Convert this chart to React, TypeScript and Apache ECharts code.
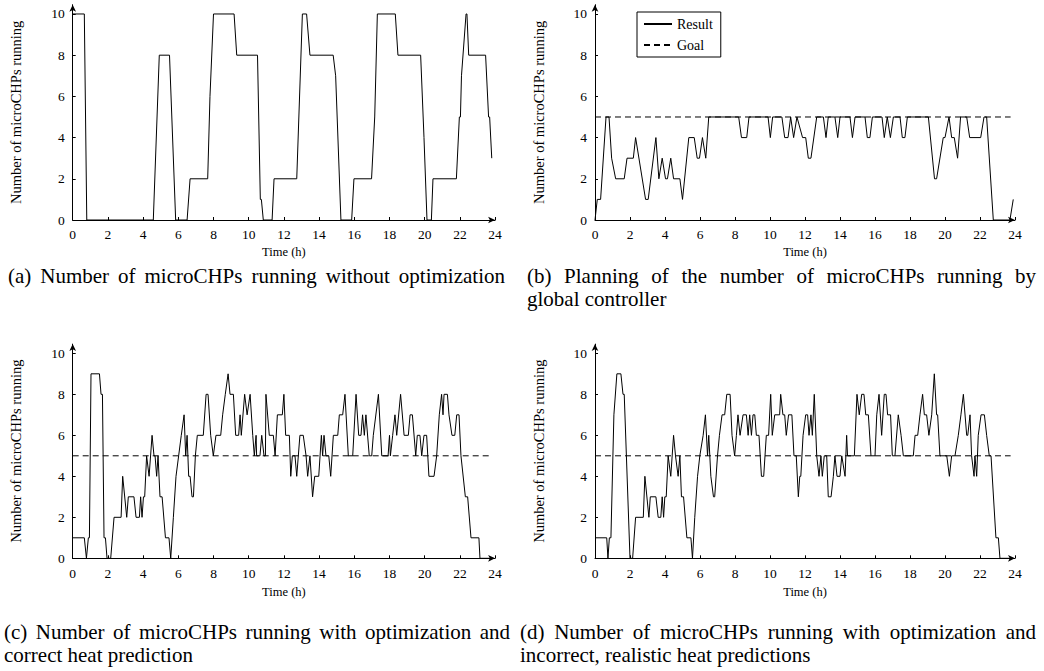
import React, { useEffect, useRef } from 'react';
import * as echarts from 'echarts';

const FONT = '"Liberation Serif", "Times New Roman", serif';

// ---- (a) without optimization ----
const hoursA = [
  0, 0.66, 0.8, 4.58, 4.92, 5.5, 5.85, 6.5, 6.67, 7.67,
  7.8, 8.0, 9.17, 9.32, 10.5, 10.66, 10.72, 10.83, 11.33, 11.44,
  12.73, 13.05, 13.29, 13.48, 14.8, 14.94, 15.24, 15.85, 15.98, 16.98,
  17.16, 17.31, 18.33, 18.48, 19.77, 19.96, 20.13, 20.38, 20.47, 21.8,
  21.97, 22.03, 22.09, 22.35, 22.4, 22.5, 23.46, 23.63, 23.69, 23.81,
];
const valuesA = [
  10, 10, 0, 0, 8, 8, 0, 0, 2, 2,
  6, 10, 10, 8, 8, 1, 1, 0, 0, 2,
  2, 10, 10, 8, 8, 7, 0, 0, 2, 2,
  5, 10, 10, 8, 8, 4, 0, 0, 2, 2,
  5, 5, 7, 10, 10, 8, 8, 5, 5, 3,
];

// ---- (b) planning by global controller ----
const hoursB = [
  0, 0.13, 0.32, 0.63, 0.8, 0.95, 1.18, 1.67, 1.83, 2.19,
  2.32, 2.89, 3.04, 3.48, 3.65, 3.84, 4.03, 4.14, 4.33, 4.49,
  4.85, 5.0, 5.36, 5.67, 5.84, 5.97, 6.14, 6.33, 6.5, 8.21,
  8.37, 8.67, 8.8, 9.89, 10.02, 10.15, 10.68, 10.84, 11.03, 11.18,
  11.35, 11.54, 11.86, 12.04, 12.19, 12.34, 12.67, 13.05, 13.2, 13.33,
  13.71, 13.87, 14.0, 14.57, 14.71, 14.86, 15.43, 15.56, 15.71, 15.85,
  16.4, 16.53, 16.7, 16.88, 17.05, 17.43, 17.56, 17.71, 17.85, 19.05,
  19.4, 19.52, 19.9, 20.0, 20.23, 20.38, 20.53, 20.72, 20.89, 21.24,
  21.41, 22.04, 22.23, 22.38, 22.76, 23.71, 23.9,
];
const valuesB = [
  0, 1, 1, 5, 5, 3, 2, 2, 3, 3,
  4, 1, 1, 4, 2, 3, 2, 2, 3, 2,
  2, 1, 4, 4, 3, 3, 4, 3, 5, 5,
  4, 4, 5, 5, 4, 5, 5, 4, 4, 5,
  4, 5, 4, 4, 3, 3, 5, 5, 4, 5,
  5, 4, 5, 5, 4, 5, 5, 4, 4, 5,
  5, 4, 5, 4, 5, 5, 4, 4, 5, 5,
  2, 2, 4, 4, 5, 4, 4, 3, 5, 5,
  4, 4, 5, 5, 0, 0, 1,
];

// ---- (c) optimization, correct heat prediction ----
const hoursC = [
  0, 0.66, 0.78, 0.89, 0.95, 1.04, 1.52, 1.61, 1.69, 1.78,
  1.86, 1.95, 2.16, 2.35, 2.75, 2.84, 3.07, 3.16, 3.48, 3.6,
  3.79, 3.86, 3.94, 4.02, 4.09, 4.2, 4.34, 4.51, 4.62, 4.68,
  4.77, 4.85, 4.96, 5.08, 5.27, 5.47, 5.57, 5.72, 5.87, 6.02,
  6.17, 6.33, 6.42, 6.5, 6.59, 6.67, 6.78, 6.86, 6.97, 7.08,
  7.42, 7.58, 7.69, 7.84, 7.99, 8.14, 8.41, 8.52, 8.67, 8.83,
  8.94, 9.13, 9.26, 9.43, 9.51, 9.58, 9.77, 9.91, 10.08, 10.23,
  10.32, 10.42, 10.45, 10.64, 10.74, 10.87, 10.95, 10.98, 11.17, 11.4,
  11.5, 11.63, 11.91, 12.0, 12.1, 12.31, 12.39, 12.48, 12.63, 12.73,
  12.91, 13.1, 13.26, 13.35, 13.48, 13.63, 13.75, 13.98, 14.13, 14.2,
  14.28, 14.39, 14.55, 14.66, 14.81, 15.06, 15.15, 15.34, 15.47, 15.66,
  15.91, 16.1, 16.25, 16.38, 16.47, 16.57, 16.66, 16.85, 16.99, 17.08,
  17.37, 17.56, 17.92, 18.0, 18.05, 18.18, 18.31, 18.41, 18.63, 18.83,
  19.07, 19.17, 19.3, 19.49, 19.58, 19.73, 19.83, 19.96, 20.11, 20.24,
  20.53, 20.68, 20.83, 20.96, 21.04, 21.1, 21.29, 21.38, 21.55, 21.71,
  21.82, 21.95, 22.06, 22.31, 22.44, 22.63, 23.08, 23.14, 23.9,
];
const valuesC = [
  1, 1, 0, 1, 1, 9, 9, 8, 8, 1,
  1, 0, 0, 2, 2, 4, 2, 3, 3, 2,
  2, 3, 2, 3, 3, 5, 4, 6, 5, 5,
  4, 5, 3, 3, 1, 1, 0, 2, 4, 5,
  6, 7, 5, 6, 4, 4, 3, 3, 5, 6,
  6, 8, 8, 6, 5, 6, 6, 7, 8, 9,
  8, 8, 6, 6, 7, 6, 8, 7, 8, 6,
  5, 6, 5, 5, 6, 5, 5, 8, 6, 6,
  5, 7, 7, 8, 6, 6, 4, 5, 5, 4,
  6, 6, 5, 4, 5, 3, 4, 4, 6, 5,
  6, 5, 5, 4, 6, 6, 7, 7, 8, 5,
  5, 8, 6, 6, 7, 6, 7, 5, 5, 6,
  8, 5, 5, 6, 5, 6, 7, 6, 8, 6,
  6, 7, 7, 5, 6, 6, 5, 6, 6, 4,
  4, 5, 7, 8, 7, 8, 8, 7, 6, 6,
  7, 7, 5, 3, 3, 1, 1, 0, 0,
];

// ---- (d) optimization, incorrect realistic heat predictions ----
const hoursD = [
  0, 0.67, 0.74, 0.82, 0.91, 1.08, 1.25, 1.48, 1.6, 1.67,
  2.0, 2.15, 2.32, 2.76, 2.85, 3.08, 3.16, 3.48, 3.61, 3.76,
  3.84, 3.92, 3.99, 4.07, 4.18, 4.33, 4.49, 4.6, 4.75, 4.85,
  4.94, 5.06, 5.25, 5.48, 5.57, 5.7, 5.86, 5.99, 6.18, 6.31,
  6.43, 6.5, 6.62, 6.77, 6.84, 7.0, 7.11, 7.26, 7.41, 7.53,
  7.72, 7.83, 7.98, 8.08, 8.17, 8.29, 8.46, 8.65, 8.75, 8.84,
  8.94, 9.03, 9.13, 9.22, 9.37, 9.51, 9.64, 9.79, 9.92, 10.04,
  10.13, 10.27, 10.55, 10.61, 10.74, 10.84, 10.93, 11.06, 11.25, 11.37,
  11.5, 11.62, 11.7, 11.76, 11.89, 12.04, 12.15, 12.23, 12.34, 12.42,
  12.53, 12.67, 12.8, 12.91, 12.99, 13.1, 13.24, 13.33, 13.49, 13.62,
  13.71, 13.83, 14.0, 14.1, 14.29, 14.38, 14.43, 14.82, 14.97, 15.1,
  15.24, 15.37, 15.47, 15.62, 15.77, 16.0, 16.1, 16.23, 16.38, 16.53,
  16.63, 16.72, 16.89, 16.99, 17.14, 17.33, 17.49, 17.62, 18.19, 18.29,
  18.44, 18.57, 18.72, 18.82, 18.95, 19.08, 19.24, 19.39, 19.52, 19.58,
  19.71, 20.1, 20.25, 20.38, 20.57, 20.76, 20.91, 21.05, 21.24, 21.3,
  21.43, 21.52, 21.66, 21.71, 21.81, 21.9, 22.06, 22.25, 22.38, 22.53,
  22.63, 22.91, 23.05, 23.14, 23.9,
];
const valuesD = [
  1, 1, 0, 1, 1, 7, 9, 9, 8, 8,
  0, 0, 2, 2, 4, 2, 3, 3, 2, 2,
  3, 2, 3, 3, 5, 4, 6, 5, 4, 5,
  3, 3, 1, 1, 0, 2, 4, 5, 6, 7,
  5, 6, 4, 3, 3, 5, 6, 7, 7, 8,
  8, 6, 5, 6, 7, 6, 7, 7, 6, 7,
  6, 7, 7, 6, 6, 4, 4, 6, 6, 8,
  6, 7, 7, 8, 7, 7, 6, 7, 7, 5,
  5, 3, 4, 4, 6, 7, 7, 6, 7, 6,
  8, 5, 4, 5, 4, 5, 5, 3, 3, 4,
  5, 4, 4, 5, 4, 6, 5, 5, 8, 7,
  8, 8, 7, 7, 5, 5, 7, 8, 6, 8,
  8, 7, 7, 5, 5, 7, 6, 5, 5, 6,
  6, 7, 8, 7, 7, 6, 7, 9, 7, 7,
  5, 5, 4, 5, 5, 6, 7, 8, 6, 6,
  7, 5, 4, 5, 4, 6, 7, 7, 6, 5,
  5, 1, 1, 0, 0,
];

// Goal level (dashed)
const goalHours = [0, 23.75];
const goalValues = [5, 5];

const xTicks = [0, 24, 2];
const yTicks = [0, 10, 2];

const captionA = '(a) Number of microCHPs running without optimization';
const captionB1 = '(b) Planning of the number of microCHPs running by';
const captionB2 = 'global controller';
const captionC1 = '(c) Number of microCHPs running with optimization and';
const captionC2 = 'correct heat prediction';
const captionD1 = '(d) Number of microCHPs running with optimization and';
const captionD2 = 'incorrect, realistic heat predictions';

const zip = (xs: number[], ys: number[]) => xs.map((x, i) => [x, ys[i]]);

const CAP_SIZE = 21;
const CAP_FONT = `${CAP_SIZE}px "Liberation Serif"`;

function measure(text: string): number {
  const c = document.createElement('canvas');
  const ctx = c.getContext('2d')!;
  ctx.font = CAP_FONT;
  return ctx.measureText(text).width;
}

// Caption as a single text element: first line justified between x0 and x1
function caption(line1: string, line2: string | null, x0: number, x1: number, yCenter: number, lh: number) {
  const words = line1.split(' ');
  const total = words.reduce((a, w) => a + measure(w), 0);
  const gap = Math.max(2, (x1 - x0 - total) / (words.length - 1));
  const rich: any = { g: { width: gap, lineHeight: lh, font: CAP_FONT } };
  let text = words.join('{g| }');
  if (line2) text += '\n' + line2;
  return {
    type: 'text',
    x: x0,
    y: yCenter - lh / 2,
    silent: true,
    style: {
      text,
      fill: '#000',
      font: CAP_FONT,
      lineHeight: lh,
      align: 'left',
      verticalAlign: 'top',
      rich,
    },
  };
}

function buildOption() {
  const grids = [
    { left: 72.7, top: 4.7, width: 422.4, height: 215.3 },
    { left: 595, top: 4.7, width: 420, height: 215.3 },
    { left: 72.7, top: 344.1, width: 422.4, height: 214.2 },
    { left: 595, top: 344.1, width: 420, height: 214.2 },
  ];
  const xAxis = grids.map((_, i) => ({
    type: 'value',
    gridIndex: i,
    min: xTicks[0],
    max: xTicks[1],
    interval: xTicks[2],
    axisLine: {
      show: true,
      lineStyle: { color: '#000', width: 1 },
      symbol: ['none', 'arrow'],
      symbolSize: [5, 7],
    },
    axisTick: { show: true, inside: true, length: 3, lineStyle: { color: '#000' } },
    axisLabel: { color: '#000', fontFamily: FONT, fontSize: 13.5, margin: i < 2 ? 7 : 8 },
    splitLine: { show: false },
    name: 'Time (h)',
    nameLocation: 'middle',
    nameGap: i < 2 ? 25 : 27,
    nameTextStyle: { fontFamily: FONT, fontSize: 12.5, color: '#000' },
  }));
  const yAxis = grids.map((_, i) => ({
    type: 'value',
    gridIndex: i,
    min: yTicks[0],
    max: 10.45,
    interval: yTicks[2],
    axisLine: {
      show: true,
      lineStyle: { color: '#000', width: 1 },
      symbol: ['none', 'arrow'],
      symbolSize: [5, 7],
    },
    axisTick: { show: true, inside: true, length: 3, lineStyle: { color: '#000' } },
    axisLabel: {
      color: '#000',
      fontFamily: FONT,
      fontSize: 13.5,
      margin: 8,
      showMaxLabel: false,
      formatter: (v: number) => (v % 2 === 0 ? String(v) : ''),
    },
    splitLine: { show: false },
    name: 'Number of microCHPs running',
    nameLocation: 'middle',
    nameGap: 49,
    nameTextStyle: { fontFamily: FONT, fontSize: 14.5, color: '#000' },
  }));

  const solid = (name: string, data: number[][], idx: number) => ({
    type: 'line',
    name,
    data,
    xAxisIndex: idx,
    yAxisIndex: idx,
    symbol: 'none',
    showSymbol: false,
    lineStyle: { color: '#000', width: 1 },
    itemStyle: { color: '#000' },
    silent: true,
  });
  const dashed = (idx: number) => ({
    type: 'line',
    name: 'Goal',
    data: zip(goalHours, goalValues),
    xAxisIndex: idx,
    yAxisIndex: idx,
    symbol: 'none',
    showSymbol: false,
    lineStyle: { color: '#000', width: 1, type: [6, 4] },
    itemStyle: { color: '#000' },
    silent: true,
  });

  const graphics: any[] = [
    caption(captionA, null, 8, 505, 276, 22.5),
    caption(captionB1, captionB2, 527, 1036, 276, 22.5),
    caption(captionC1, captionC2, 4, 510, 632, 22.5),
    caption(captionD1, captionD2, 520, 1036, 632, 22.5),
  ];

  return {
    animation: false,
    backgroundColor: '#fff',
    grid: grids,
    xAxis,
    yAxis,
    legend: {
      orient: 'vertical',
      left: 637,
      top: 12,
      data: ['Result', 'Goal'],
      borderColor: '#000',
      borderWidth: 1,
      borderRadius: 0,
      padding: [5, 8, 5, 6],
      itemGap: 7,
      itemWidth: 28,
      itemHeight: 12,
      selectedMode: false,
      itemStyle: { opacity: 0 },
      textStyle: { fontFamily: FONT, fontSize: 14, color: '#000' },
    },
    series: [
      solid('Without optimization', zip(hoursA, valuesA), 0),
      solid('Result', zip(hoursB, valuesB), 1),
      dashed(1),
      solid('Result', zip(hoursC, valuesC), 2),
      dashed(2),
      solid('Result', zip(hoursD, valuesD), 3),
      dashed(3),
    ],
    graphic: graphics,
  };
}

export default function App() {
  const ref = useRef<HTMLDivElement>(null);
  useEffect(() => {
    const chart = echarts.init(ref.current!, null, { renderer: 'svg' });
    chart.setOption(buildOption() as any);
    return () => chart.dispose();
  }, []);
  return (
    <div
      ref={ref}
      style={{ position: 'absolute', left: 0, top: 0, width: 1044, height: 671, background: '#fff' }}
    />
  );
}
